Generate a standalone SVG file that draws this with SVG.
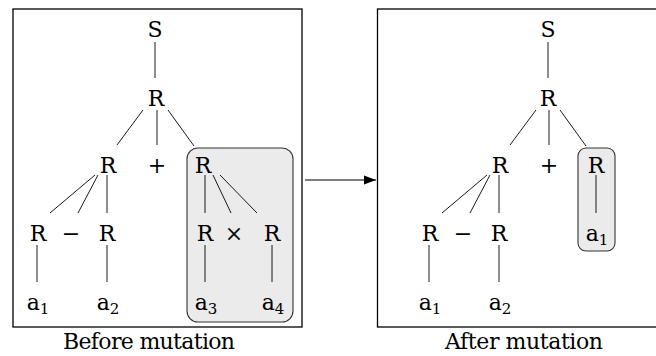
<svg xmlns="http://www.w3.org/2000/svg" width="656" height="356" viewBox="0 0 656 356">
<defs>
<marker id="ah" viewBox="0 0 12 10" refX="12" refY="5" markerWidth="12" markerHeight="10" markerUnits="userSpaceOnUse" orient="auto">
<path d="M0,0.5 L12,5 L0,9.5 Z" fill="#000"/>
</marker>
</defs>
<g fill="#fff" stroke="#000" stroke-width="1.3">
<rect id="before-frame" x="13" y="9" width="289" height="318"/>
<rect id="after-frame" x="377.5" y="9" width="300" height="318"/>
</g>
<g fill="#ebebeb" stroke="#333" stroke-width="1.1">
<rect id="hl-before" x="187" y="148" width="106" height="174" rx="11"/>
<rect id="hl-after" x="578" y="148" width="37" height="103" rx="8"/>
</g>
<g id="connectors" stroke="#000" stroke-width="0.9" fill="none">
<line x1="155" y1="42" x2="155" y2="78"/>
<line x1="143" y1="110" x2="117" y2="145"/>
<line x1="157" y1="110" x2="157" y2="145"/>
<line x1="168" y1="110" x2="194" y2="146"/>
<line x1="95" y1="175" x2="50" y2="213"/>
<line x1="98" y1="175" x2="78" y2="213"/>
<line x1="107" y1="175" x2="107" y2="213"/>
<line x1="205" y1="175" x2="205" y2="213"/>
<line x1="213" y1="175" x2="231" y2="213"/>
<line x1="220" y1="175" x2="257" y2="213"/>
<line x1="37" y1="245" x2="37" y2="282"/>
<line x1="107" y1="245" x2="107" y2="282"/>
<line x1="205" y1="245" x2="205" y2="282"/>
<line x1="272" y1="245" x2="272" y2="282"/>
<line x1="548" y1="42" x2="548" y2="78"/>
<line x1="536" y1="110" x2="510" y2="145"/>
<line x1="549" y1="110" x2="549" y2="145"/>
<line x1="560" y1="110" x2="586" y2="146"/>
<line x1="487" y1="175" x2="442" y2="213"/>
<line x1="490" y1="175" x2="470" y2="213"/>
<line x1="499" y1="175" x2="499" y2="213"/>
<line x1="596" y1="175" x2="596" y2="213"/>
<line x1="429" y1="245" x2="429" y2="282"/>
<line x1="499" y1="245" x2="499" y2="282"/>
<line x1="305" y1="180" x2="376" y2="180" stroke-width="1.2" marker-end="url(#ah)"/>
</g>
<g style="font-family:'DejaVu Serif','Liberation Serif',serif;font-size:22px" fill="#000" text-anchor="middle">
<g id="b-S"><text x="155" y="37">S</text></g>
<g id="b-R"><text x="156" y="106">R</text></g>
<g id="b-RL"><text x="108" y="173">R</text></g>
<g id="b-plus"><text x="157" y="173">+</text></g>
<g id="b-RR"><text x="203" y="173">R</text></g>
<g id="b-RLL"><text x="38" y="241">R</text></g>
<g id="b-minus"><text x="71" y="241">−</text></g>
<g id="b-RLR"><text x="107" y="241">R</text></g>
<g id="b-RRL"><text x="205" y="241">R</text></g>
<g id="b-times"><text x="234" y="241">×</text></g>
<g id="b-RRR"><text x="272" y="241">R</text></g>
<g id="b-a1"><text x="38" y="310">a<tspan style="font-size:15px" dy="4">1</tspan></text></g>
<g id="b-a2"><text x="108" y="310">a<tspan style="font-size:15px" dy="4">2</tspan></text></g>
<g id="b-a3"><text x="206" y="310">a<tspan style="font-size:15px" dy="4">3</tspan></text></g>
<g id="b-a4"><text x="273" y="310">a<tspan style="font-size:15px" dy="4">4</tspan></text></g>
<g id="a-S"><text x="548" y="37">S</text></g>
<g id="a-R"><text x="548" y="106">R</text></g>
<g id="a-RL"><text x="500" y="173">R</text></g>
<g id="a-plus"><text x="549" y="173">+</text></g>
<g id="a-RR"><text x="596" y="173">R</text></g>
<g id="a-RLL"><text x="430" y="241">R</text></g>
<g id="a-minus"><text x="463" y="241">−</text></g>
<g id="a-RLR"><text x="499" y="241">R</text></g>
<g id="a-RRa1"><text x="597" y="241">a<tspan style="font-size:15px" dy="4">1</tspan></text></g>
<g id="a-a1"><text x="430" y="310">a<tspan style="font-size:15px" dy="4">1</tspan></text></g>
<g id="a-a2"><text x="500" y="310">a<tspan style="font-size:15px" dy="4">2</tspan></text></g>
<text x="149" y="349" textLength="172">Before mutation</text>
<text x="524" y="349" textLength="158">After mutation</text>
</g>
</svg>
